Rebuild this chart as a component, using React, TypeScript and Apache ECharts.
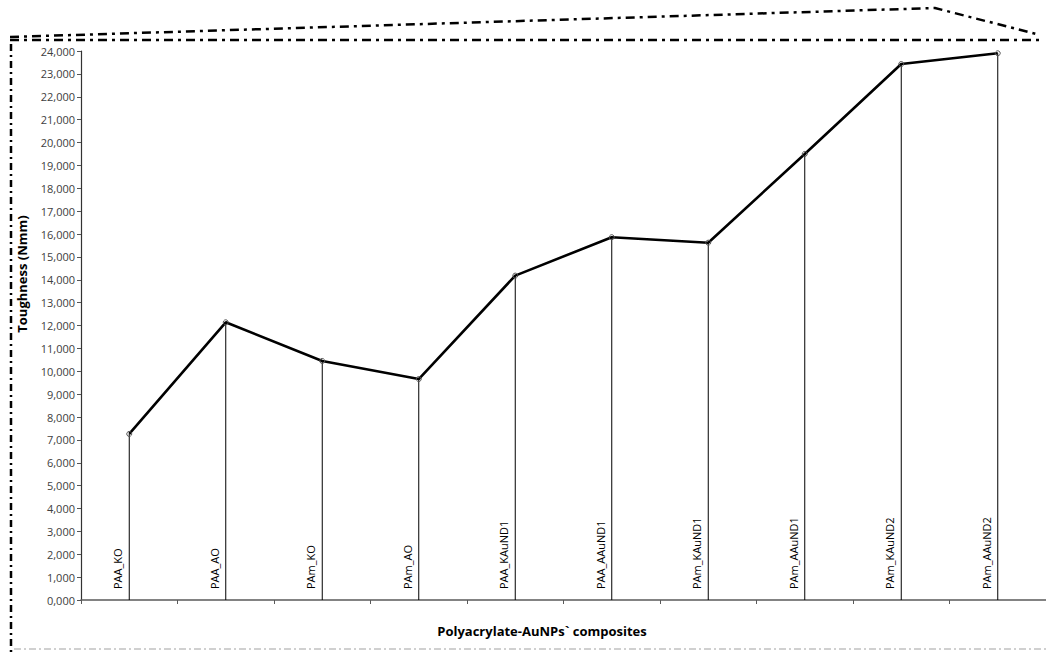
import React, { useEffect, useRef } from "react";
import * as echarts from "echarts";

// Composite samples along the category axis
const categories = [
  "PAA_KO",
  "PAA_AO",
  "PAm_KO",
  "PAm_AO",
  "PAA_KAuND1",
  "PAA_AAuND1",
  "PAm_KAuND1",
  "PAm_AAuND1",
  "PAm_KAuND2",
  "PAm_AAuND2",
];

// Toughness in Nmm for each composite
const toughness = [7260, 12140, 10450, 9660, 14180, 15860, 15620, 19500, 23430, 23900];

// Value-axis range and step
const yMin = 0;
const yMax = 24000;
const yStep = 1000;

const yTitle = "Toughness (Nmm)";
const xTitle = "Polyacrylate-AuNPs` composites";

const FONT = "'Open Sans', 'DejaVu Sans', sans-serif";

export default function App() {
  const ref = useRef<HTMLDivElement>(null);

  useEffect(() => {
    if (!ref.current) return;
    const chart = echarts.init(ref.current, null, { renderer: "svg" });

    const dashDot = [9, 5, 3, 5];

    chart.setOption({
      animation: false,
      backgroundColor: "#ffffff",
      textStyle: { fontFamily: FONT },
      grid: { left: 81, top: 51, width: 967, height: 549, containLabel: false },
      xAxis: {
        type: "category",
        data: categories,
        boundaryGap: true,
        axisLine: { show: true, lineStyle: { color: "#5a5a5a", width: 1.5 } },
        axisTick: { show: true, interval: 0, length: 4, lineStyle: { color: "#5a5a5a" } },
        axisLabel: { show: false },
        splitLine: { show: false },
      },
      yAxis: {
        type: "value",
        min: yMin,
        max: yMax,
        interval: yStep,
        axisLine: { show: true, lineStyle: { color: "#333333", width: 1.2 } },
        axisTick: { show: true, length: 4, lineStyle: { color: "#555555" } },
        axisLabel: {
          margin: 6,
          color: "#404040",
          fontSize: 11,
          fontFamily: FONT,
          formatter: (v: number) => `${Math.round(v / 1000)},000`,
        },
        splitLine: { show: false },
      },
      series: [
        {
          // thin drop lines from each point to the category axis, carrying the sample names
          type: "bar",
          data: toughness,
          barWidth: 1,
          itemStyle: { color: "#000000" },
          z: 2,
          label: {
            show: true,
            formatter: "{b}",
            position: "insideBottom",
            distance: 11,
            rotate: 90,
            align: "left",
            verticalAlign: "bottom",
            padding: [0, 0, 6, 0],
            color: "#000000",
            fontSize: 11,
            fontFamily: FONT,
          },
          emphasis: { disabled: true },
        },
        {
          type: "line",
          data: toughness,
          symbol: "circle",
          symbolSize: 5,
          lineStyle: { color: "#000000", width: 2.6 },
          itemStyle: { color: "rgba(255,255,255,0)", borderColor: "#555555", borderWidth: 1 },
          z: 3,
          emphasis: { disabled: true },
        },
      ],
      graphic: [
        {
          type: "polyline",
          shape: { points: [[10, 37], [935, 8], [1040, 35]] },
          style: { stroke: "#000000", lineWidth: 2.5, fill: null, lineDash: dashDot },
          silent: true,
        },
        {
          type: "polyline",
          shape: { points: [[10, 40], [1042, 40]] },
          style: { stroke: "#000000", lineWidth: 2.5, fill: null, lineDash: dashDot },
          silent: true,
        },
        {
          type: "polyline",
          shape: { points: [[11, 44], [11, 652]] },
          style: { stroke: "#000000", lineWidth: 2.5, fill: null, lineDash: [7, 4, 2, 4] },
          silent: true,
        },
        {
          type: "polyline",
          shape: { points: [[14, 649], [1046, 649]] },
          style: { stroke: "#d0d0d0", lineWidth: 2, fill: null, lineDash: [7, 3, 2, 3] },
          silent: true,
        },
        {
          type: "text",
          x: 22,
          y: 274,
          rotation: Math.PI / 2,
          style: {
            text: yTitle,
            font: `bold 13px ${FONT}`,
            fill: "#000000",
            align: "center",
            verticalAlign: "middle",
          },
          silent: true,
        },
        {
          type: "text",
          x: 542,
          y: 631,
          style: {
            text: xTitle,
            font: `bold 13px ${FONT}`,
            fill: "#000000",
            align: "center",
            verticalAlign: "middle",
          },
          silent: true,
        },
      ],
    });

    return () => chart.dispose();
  }, []);

  return (
    <div
      ref={ref}
      style={{ position: "absolute", left: 0, top: 0, width: 1046, height: 652 }}
    />
  );
}
